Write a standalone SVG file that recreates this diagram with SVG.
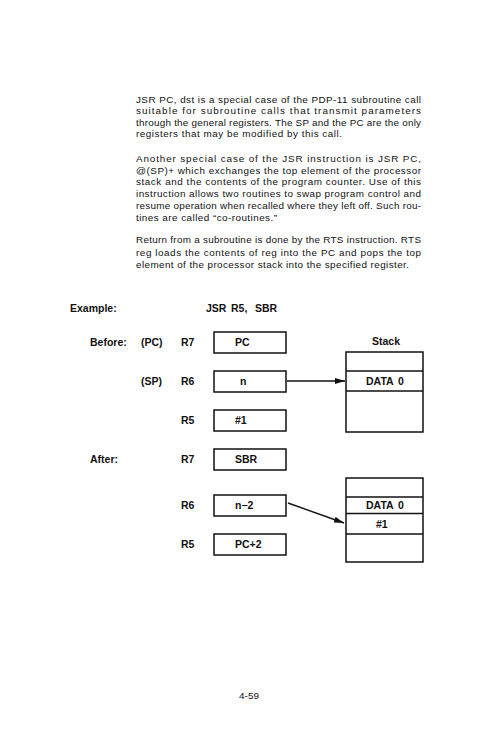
<svg xmlns="http://www.w3.org/2000/svg" width="500" height="754" viewBox="0 0 500 754">
<style>
.p{font-family:"Liberation Sans",Arial,sans-serif;font-size:9.9px;fill:#111}
.d{font-family:"Liberation Sans",Arial,sans-serif;font-size:10.5px;font-weight:bold;fill:#111}
.b{fill:#fff;stroke:#111;stroke-width:1.5}
.l{stroke:#111;stroke-width:1.4;fill:none}
</style>
<defs>
<marker id="ah" viewBox="0 0 10 6" refX="10" refY="3" markerWidth="10" markerHeight="6" markerUnits="userSpaceOnUse" orient="auto">
<path d="M0,0 L10,3 L0,6 z" fill="#111"/>
</marker>
</defs>
<rect width="500" height="754" fill="#fff"/>
<g id="text">
<text class="p" x="136" y="102.7" textLength="285" lengthAdjust="spacing">JSR PC, dst is a special case of the PDP-11 subroutine call</text>
<text class="p" x="136" y="114.2" textLength="285" lengthAdjust="spacing">suitable for subroutine calls that transmit parameters</text>
<text class="p" x="136" y="125.7" textLength="285" lengthAdjust="spacing">through the general registers. The SP and the PC are the only</text>
<text class="p" x="136" y="137.2" textLength="206" lengthAdjust="spacing">registers that may be modified by this call.</text>
<text class="p" x="136" y="161.7" textLength="285" lengthAdjust="spacing">Another special case of the JSR instruction is JSR PC,</text>
<text class="p" x="136" y="173.5" textLength="285" lengthAdjust="spacing">@(SP)+ which exchanges the top element of the processor</text>
<text class="p" x="136" y="185.3" textLength="285" lengthAdjust="spacing">stack and the contents of the program counter. Use of this</text>
<text class="p" x="136" y="197.1" textLength="285" lengthAdjust="spacing">instruction allows two routines to swap program control and</text>
<text class="p" x="136" y="208.9" textLength="285" lengthAdjust="spacing">resume operation when recalled where they left off. Such rou-</text>
<text class="p" x="136" y="220.7" textLength="141" lengthAdjust="spacing">tines are called “co-routines.”</text>
<text class="p" x="136" y="243.3" textLength="285" lengthAdjust="spacing">Return from a subroutine is done by the RTS instruction. RTS</text>
<text class="p" x="136" y="255.5" textLength="285" lengthAdjust="spacing">reg loads the contents of reg into the PC and pops the top</text>
<text class="p" x="136" y="267.7" textLength="273" lengthAdjust="spacing">element of the processor stack into the specified register.</text>
</g>
<g id="labels">
<text class="d" x="70" y="312">Example:</text>
<text class="d" y="312"><tspan x="206">JSR</tspan><tspan x="231">R5,</tspan><tspan x="255">SBR</tspan></text>
<text class="d" x="90" y="346">Before:</text>
<text class="d" x="141" y="346">(PC)</text>
<text class="d" x="181" y="346">R7</text>
<text class="d" x="141" y="385">(SP)</text>
<text class="d" x="181" y="385">R6</text>
<text class="d" x="181" y="424">R5</text>
<text class="d" x="90" y="463">After:</text>
<text class="d" x="181" y="463">R7</text>
<text class="d" x="181" y="509">R6</text>
<text class="d" x="181" y="548">R5</text>
<text class="d" x="372" y="345">Stack</text>
</g>
<g id="reg-before-r7"><rect class="b" x="214" y="332" width="72" height="21"/><text class="d" x="235" y="346">PC</text></g>
<g id="reg-before-r6"><rect class="b" x="214" y="371" width="72" height="21"/><text class="d" x="240" y="385">n</text></g>
<g id="reg-before-r5"><rect class="b" x="214" y="410" width="72" height="21"/><text class="d" x="235" y="424">#1</text></g>
<g id="reg-after-r7"><rect class="b" x="214" y="449" width="72" height="21"/><text class="d" x="235" y="463">SBR</text></g>
<g id="reg-after-r6"><rect class="b" x="214" y="495" width="72" height="21"/><text class="d" x="235" y="509">n−2</text></g>
<g id="reg-after-r5"><rect class="b" x="214" y="534" width="72" height="21"/><text class="d" x="235" y="548">PC+2</text></g>
<g id="stack-before">
<rect class="b" x="346" y="352" width="77" height="80"/>
<line class="l" x1="346" y1="371" x2="423" y2="371"/>
<line class="l" x1="346" y1="391" x2="423" y2="391"/>
<text class="d" y="385"><tspan x="366">DATA</tspan><tspan x="398">0</tspan></text>
</g>
<g id="stack-after">
<rect class="b" x="346" y="478" width="77" height="84"/>
<line class="l" x1="346" y1="497" x2="423" y2="497"/>
<line class="l" x1="346" y1="513.5" x2="423" y2="513.5"/>
<line class="l" x1="346" y1="534" x2="423" y2="534"/>
<text class="d" y="509"><tspan x="366">DATA</tspan><tspan x="398">0</tspan></text>
<text class="d" x="376" y="528">#1</text>
</g>
<g id="connectors">
<line class="l" x1="287" y1="381" x2="345" y2="381" marker-end="url(#ah)"/>
<line class="l" x1="288" y1="503" x2="344" y2="523" marker-end="url(#ah)"/>
</g>
<text class="p" x="249" y="699" text-anchor="middle" font-size="11">4-59</text>
</svg>
